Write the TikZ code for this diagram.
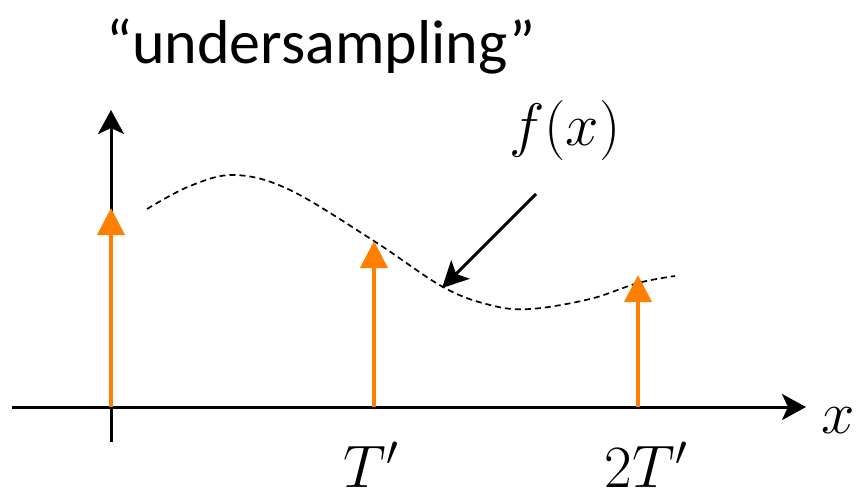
\documentclass[tikz,border=0pt]{standalone}
\usepackage{fix-cm}
\usepackage{fontspec}
\newfontfamily\titlefont{Carlito}
\usetikzlibrary{arrows.meta}
\definecolor{sampleorange}{RGB}{255,128,0}
\tikzset{
  axis/.style={line width=3pt, -{Stealth[length=24pt,width=26pt,inset=6pt]}},
  sample/.style={line width=4pt, color=sampleorange, -{Triangle[length=27pt,width=27pt]}},
  pointer/.style={line width=3pt, -{Stealth[length=26pt,width=26pt,inset=6pt]}},
  curve/.style={line width=1.7pt, dash pattern=on 6pt off 4pt},
  mathlabel/.style={inner sep=0pt, anchor=base, font=\fontsize{60}{64}\selectfont},
}
\begin{document}
\begin{tikzpicture}[x=1pt,y=-1pt]
\useasboundingbox (0,0) rectangle (858,499);
\node[inner sep=0pt, anchor=base west, font=\titlefont\fontsize{62}{66}\selectfont] (title) at (106,63) {“undersampling”};
% axes
\coordinate (ybot) at (111,442);
\coordinate (ytop) at (111,110);
\coordinate (xleft) at (12,407);
\coordinate (xright) at (806,407);
\draw[axis] (ybot) -- (ytop);
\draw[axis] (xleft) -- (xright);
\node[mathlabel] (xlab) at (838,433) {$x$};
% curve
\draw[curve] plot[smooth, tension=0.6] coordinates {(147,209) (190,186) (235,175) (290,190) (374,241) (443,287) (490,305) (530,309) (590,299) (638,283) (675,276)};
% samples
\coordinate (s0) at (111,407); \coordinate (s0t) at (111,208);
\coordinate (s1) at (374,407); \coordinate (s1t) at (374,241);
\coordinate (s2) at (638,407); \coordinate (s2t) at (638,275);
\draw[sample] (s0) -- (s0t);
\draw[sample] (s1) -- (s1t);
\draw[sample] (s2) -- (s2t);
% labels
\node[mathlabel] (T1) at (371,487) {$T'$};
\node[mathlabel] (T2) at (646,487) {$2T'$};
\node[mathlabel] (flab) at (565,145) {$f(x)$};
\coordinate (pstart) at (536,194);
\coordinate (pend) at (442,288);
\draw[pointer] (pstart) -- (pend);
\end{tikzpicture}
\end{document}
